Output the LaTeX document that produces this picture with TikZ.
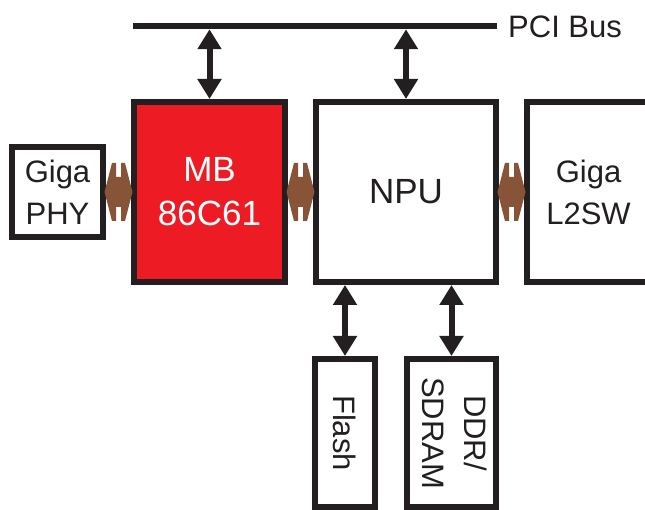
\documentclass[tikz,border=0pt]{standalone}
\usepackage{fontspec}
\usepackage{graphicx}
\setmainfont{Liberation Sans}
\usetikzlibrary{arrows.meta,calc}
\definecolor{ink}{RGB}{35,31,32}
\definecolor{chipred}{RGB}{237,28,36}
\definecolor{linkbrown}{RGB}{135,84,56}
\begin{document}
\begin{tikzpicture}[x=1pt,y=-1pt,
  box/.style={draw=ink,line width=6pt,fill=white,inner sep=0pt,align=center,text=ink,
    font=\fontsize{31}{42}\selectfont},
  bigtext/.style={font=\fontsize{35}{44}\selectfont},
  busarrow/.style={draw=ink,line width=6pt,
    {Triangle[width=23pt,length=20pt]}-{Triangle[width=23pt,length=20pt]}},
  brownlink/.pic={\fill[linkbrown] (-14,0) -- (-6.5,-29) -- (-2.5,-29) -- (-2.5,-15)
    -- (2.5,-15) -- (2.5,-29) -- (6.5,-29) -- (14,0) -- (6.5,29) -- (2.5,29)
    -- (2.5,15) -- (-2.5,15) -- (-2.5,29) -- (-6.5,29) -- cycle;}
]
\useasboundingbox (0,0) rectangle (645,510);
% PCI bus
\coordinate (busL) at (133,26);
\coordinate (busR) at (497,26);
\coordinate (busbottom) at (0,29.25);
\draw[ink,line width=6.5pt] (busL) -- (busR);
\node[anchor=west,inner sep=0pt,text=ink,font=\fontsize{31}{42}\selectfont] (pci) at (508,27) {PCI Bus};
% boxes
\node[box,fill=chipred,text=white,bigtext,minimum width=151pt,minimum height=180pt] (mb) at (209.5,192) {MB\\86C61};
\node[box,bigtext,minimum width=180pt,minimum height=180pt] (npu) at (406,192) {NPU};
\node[box,minimum width=123pt,minimum height=180pt] (l2sw) at (588.5,192) {Giga\\L2SW};
\node[box,minimum width=91pt,minimum height=90pt] (phy) at (57.5,192) {Giga\\PHY};
\node[box,minimum width=60pt,minimum height=148pt] (flash) at (345,433) {\rotatebox{-90}{Flash}};
\node[box,minimum width=89pt,minimum height=148pt] (ddr) at (451.5,433)
  {\rotatebox{-90}{\begin{tabular}{@{}c@{}}DDR/\\SDRAM\end{tabular}}};
% black bidirectional arrows
\draw[busarrow] (mb.north) -- (mb.north |- busbottom);
\draw[busarrow] (npu.north) -- (npu.north |- busbottom);
\draw[busarrow] (flash.north) -- (flash.north |- npu.south);
\draw[busarrow] (ddr.north) -- (ddr.north |- npu.south);
% brown links
\pic at ($(phy.east)!0.5!(mb.west)$) {brownlink};
\pic at ($(mb.east)!0.5!(npu.west)$) {brownlink};
\pic at ($(npu.east)!0.5!(l2sw.west)$) {brownlink};
\end{tikzpicture}
\end{document}
